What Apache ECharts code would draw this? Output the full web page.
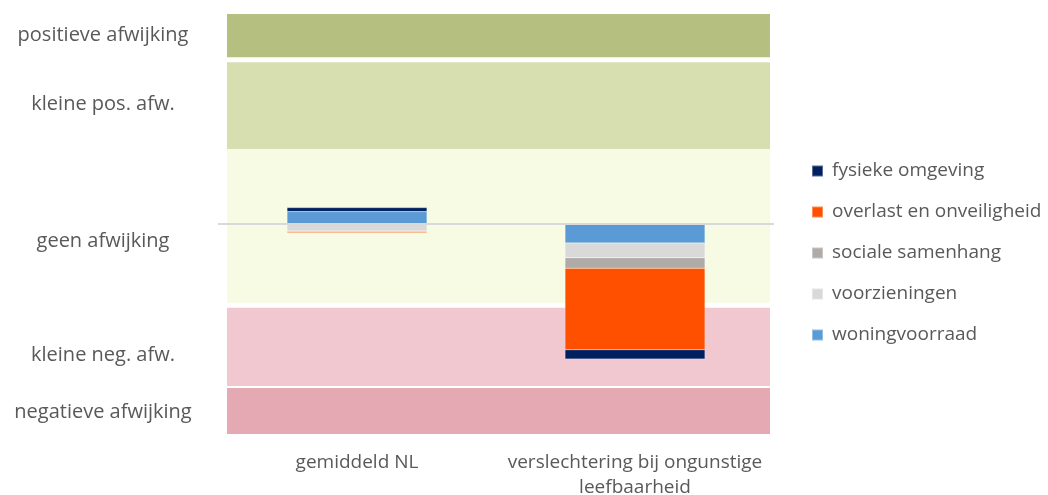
<!DOCTYPE html>
<html>
<head>
<meta charset="utf-8">
<title>leefbaarheid</title>
<script src="https://cdn.jsdelivr.net/npm/echarts@6/dist/echarts.min.js"></script>
<style>
  html, body { margin: 0; padding: 0; background: #fff; }
  #chart { width: 1048px; height: 495px; }
</style>
</head>
<body>
<div id="chart"></div>
<script>
// categorieen op de x-as
var categories = ['gemiddeld NL', 'verslechtering bij ongunstige\nleefbaarheid'];

// bijdragen per dimensie (stapelvolgorde: woningvoorraad onderaan)
var woningvoorraad = [5.9, -9.0];
var voorzieningen = [-3.3, -7.1];
var socialeSamenhang = [-0.5, -5.0];
var overlast = [-0.5, -38.8];
var fysiekeOmgeving = [1.9, -4.4];

// achtergrondbanden (van, tot)
var bandFrom = [79.4, 34.8, -37.5, -77.1, -100];
var bandTo = [100, 77.0, 35.7, -39.9, -78.1];
var bandColors = ['#b5bf80', '#d7deb0', '#f8fbe4', '#f2c8d0', '#e5a9b4'];

// labels links
var bandLabels = ['positieve afwijking', 'kleine pos. afw.', 'geen afwijking', 'kleine neg. afw.', 'negatieve afwijking'];
var bandLabelPos = [90, 57.1, -8.1, -62.4, -89.5];

var textColor = '#595959';
var font = 'Open Sans';

var chart = echarts.init(document.getElementById('chart'));

var bandData = bandFrom.map(function (v, i) { return [v, bandTo[i], i]; });

function barSeries(name, data, color) {
    return {
        name: name,
        type: 'bar',
        stack: 'totaal',
        data: data,
        barWidth: 140,
        xAxisIndex: 0,
        yAxisIndex: 0,
        z: 3,
        itemStyle: { color: color, borderColor: 'rgba(255,255,255,0.35)', borderWidth: 0.5 }
    };
}

var s1 = barSeries('woningvoorraad', woningvoorraad, '#5b9bd5');
s1.markLine = {
    silent: true,
    symbol: 'none',
    label: { show: false },
    lineStyle: { color: '#d9d9d9', width: 2, type: 'solid' },
    data: [{ yAxis: 0 }]
};

var option = {
    animation: false,
    backgroundColor: '#ffffff',
    grid: [
        { left: 218, right: 274, top: 14, bottom: 61, outerBoundsMode: 'none' },
        { left: 227, right: 278, top: 14, bottom: 61, outerBoundsMode: 'none' }
    ],
    xAxis: [
        {
            type: 'category',
            gridIndex: 0,
            data: categories,
            axisLine: { show: false },
            axisTick: { show: false },
            axisLabel: {
                interval: 0,
                color: textColor, fontFamily: font, fontSize: 19,
                margin: 16, lineHeight: 25
            }
        },
        { type: 'value', gridIndex: 1, min: 0, max: 1, show: false }
    ],
    yAxis: [
        {
            type: 'value',
            gridIndex: 0,
            min: -100,
            max: 100,
            axisLine: { show: false },
            axisTick: { show: false },
            splitLine: { show: false },
            axisLabel: {
                customValues: bandLabelPos,
                color: textColor, fontFamily: font, fontSize: 20,
                align: 'center',
                margin: 115,
                formatter: function (v) {
                    var i = bandLabelPos.indexOf(v);
                    return i >= 0 ? bandLabels[i] : '';
                }
            }
        },
        { type: 'value', gridIndex: 1, min: -100, max: 100, show: false }
    ],
    legend: {
        orient: 'vertical',
        left: 806,
        top: 155,
        itemWidth: 11,
        itemHeight: 11,
        itemGap: 19,
        icon: 'rect',
        data: ['fysieke omgeving', 'overlast en onveiligheid', 'sociale samenhang', 'voorzieningen', 'woningvoorraad'],
        textStyle: { color: textColor, fontFamily: font, fontSize: 19, lineHeight: 22, padding: [0, 0, 0, 4] }
    },
    series: [
        {
            type: 'custom',
            xAxisIndex: 1,
            yAxisIndex: 1,
            z: 0,
            silent: true,
            data: bandData,
            renderItem: function (params, api) {
                var p0 = api.coord([0, api.value(1)]);
                var p1 = api.coord([1, api.value(0)]);
                return {
                    type: 'rect',
                    shape: { x: p0[0], y: p0[1], width: p1[0] - p0[0], height: p1[1] - p0[1] },
                    style: { fill: bandColors[api.value(2)] }
                };
            }
        },
        s1,
        barSeries('voorzieningen', voorzieningen, '#d9d9d9'),
        barSeries('sociale samenhang', socialeSamenhang, '#aeaba9'),
        barSeries('overlast en onveiligheid', overlast, '#ff5000'),
        barSeries('fysieke omgeving', fysiekeOmgeving, '#002060')
    ]
};

chart.setOption(option);
</script>
</body>
</html>
